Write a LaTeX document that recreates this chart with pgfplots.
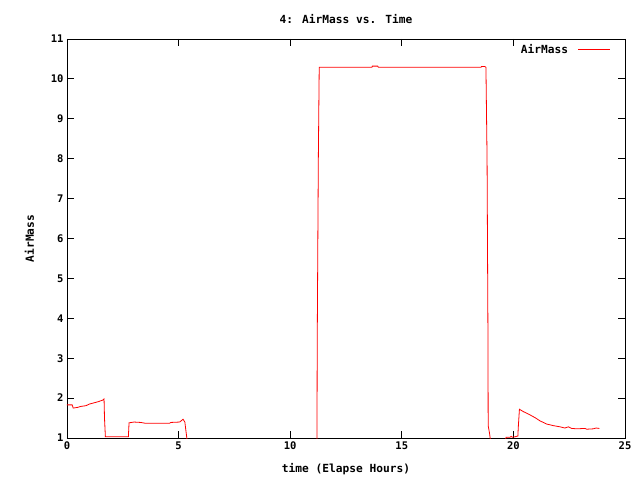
\documentclass[border=0pt]{standalone}
\usepackage{fontspec}
\setmainfont{DejaVu Sans Mono}
\usepackage{pgfplots}
\pgfplotsset{compat=1.18}
\begin{document}
\begin{tikzpicture}
\begin{axis}[
    at={(0,0)}, anchor=south west,
    scale only axis,
    width=558pt, height=399pt,
    xmin=0, xmax=25, ymin=1, ymax=11,
    xtick={0,5,10,15,20,25},
    ytick={1,2,3,4,5,6,7,8,9,10,11},
    tick align=inside,
    major tick length=7pt,
    xtick pos=both, ytick pos=both,
    axis line style={black, line width=0.8pt},
    tick style={black, line width=0.8pt},
    /pgf/number format/assume math mode=true,
    ticklabel style={font=\fontsize{10.5}{12}\selectfont\bfseries},
    title={4: AirMass vs. Time},
    title style={font=\fontsize{11.2}{13}\selectfont\bfseries, yshift=6pt},
    xlabel={time (Elapse Hours)},
    ylabel={AirMass},
    label style={font=\fontsize{11.2}{13}\selectfont\bfseries},
    xlabel style={yshift=-7pt},
    ylabel style={yshift=10pt},
    legend style={at={(1,1)}, anchor=north east, draw=none, fill=none,
                  font=\fontsize{11.2}{13}\selectfont\bfseries,
                  xshift=-11pt, yshift=-1pt},
    legend cell align=right,
    legend plot pos=right,
    legend image code/.code={\path (0pt,0pt); \draw[#1] (8pt,0pt) -- (40pt,0pt);},
]
\addplot[red, line width=0.8pt] table {
x y
0 1.83
0.23 1.83
0.28 1.75
0.5 1.77
0.6 1.79
0.85 1.81
1.0 1.85
1.2 1.88
1.4 1.91
1.6 1.95
1.66 1.98
1.68 1.5
1.72 1.03
2.75 1.03
2.78 1.38
3.0 1.40
3.3 1.39
3.5 1.37
4.6 1.37
4.65 1.39
5.05 1.40
5.2 1.47
5.28 1.40
5.38 0.95
8.0 0.95
11.2 0.95
11.21 3.31
11.26 7.97
11.3 10.29
13.66 10.29
13.68 10.32
13.92 10.32
13.95 10.29
18.55 10.29
18.57 10.31
18.72 10.31
18.77 10.29
18.82 8.0
18.86 3.6
18.87 1.31
18.93 1.12
18.97 0.95
19.65 0.95
19.67 1.02
19.85 1.02
19.9 1.04
19.95 1.02
20.07 1.03
20.2 1.05
20.22 1.28
20.27 1.72
20.45 1.66
20.6 1.62
20.74 1.58
20.97 1.51
21.19 1.43
21.49 1.35
21.79 1.31
22.09 1.28
22.31 1.25
22.46 1.28
22.61 1.24
22.84 1.23
23.21 1.24
23.28 1.22
23.58 1.23
23.7 1.25
23.85 1.24
};
\addlegendentry{AirMass}
\end{axis}
\path[use as bounding box] (-67pt,-42pt) rectangle (573pt,438pt);
\end{tikzpicture}
\end{document}
